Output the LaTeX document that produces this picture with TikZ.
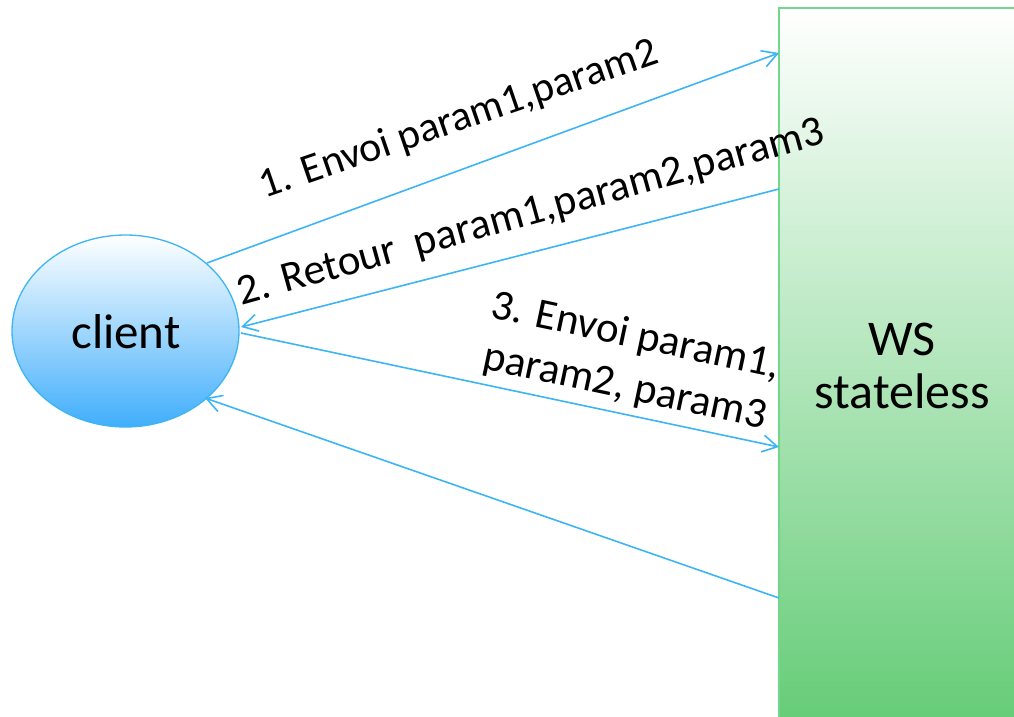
\documentclass[tikz,border=0pt]{standalone}
\usepackage{fontspec}
\setmainfont{Carlito}
\usetikzlibrary{arrows.meta,shapes.geometric}
\definecolor{arrowblue}{HTML}{3DB5F5}
\definecolor{ellbot}{HTML}{40AEFB}
\definecolor{wsgreen}{HTML}{64CC76}
\definecolor{wsborder}{HTML}{70D88A}
\tikzset{
  conn/.style={draw=arrowblue, line width=1.6pt, -{Straight Barb[length=15pt,width=17pt,line width=1.6pt]}},
  lbl/.style={font=\fontsize{43}{47}\selectfont, inner sep=0pt, text=black}
}
\begin{document}
\begin{tikzpicture}[x=1pt,y=-1pt]
\useasboundingbox (0,0) rectangle (1014,716);
% WS box
\path[top color=white, bottom color=wsgreen, draw=wsborder, line width=1.5pt] (779,8) rectangle (1030,730);
\node[lbl, align=center, font=\fontsize{50}{53}\selectfont] (ws) at (902,366) {WS\\stateless};
\coordinate (w1) at (779,53);
\coordinate (w2) at (779,189);
\coordinate (w3) at (779,447);
\coordinate (w4) at (779,598);
% client
\node[ellipse, minimum width=227pt, minimum height=192pt, draw=arrowblue, line width=1.3pt,
      top color=white, bottom color=ellbot, inner sep=0pt] (client) at (125.5,331) {};
\node[lbl, font=\fontsize{49}{52}\selectfont] (ct) at (126,332) {client};
\coordinate (c1) at (207,263);
\coordinate (c2) at (241,327);
\coordinate (c3) at (241,333);
\coordinate (c4) at (205,398);
% connectors
\draw[conn] (c1) -- (w1);
\draw[conn] (w2) -- (c2);
\draw[conn] (c3) -- (w3);
\draw[conn] (w4) -- (c4);
% labels
\node[lbl, font=\fontsize{42}{46}\selectfont, rotate=19] (l1) at (459,120) {1. Envoi param1,param2};
\node[lbl, rotate=15.5] (l2) at (531,214) {2. Retour\ \ param1,param2,param3};
\node[lbl, rotate=-12, align=center, font=\fontsize{43}{52}\selectfont] (l3) at (630,362) {3. Envoi param1,\\param2, param3};
\end{tikzpicture}
\end{document}
